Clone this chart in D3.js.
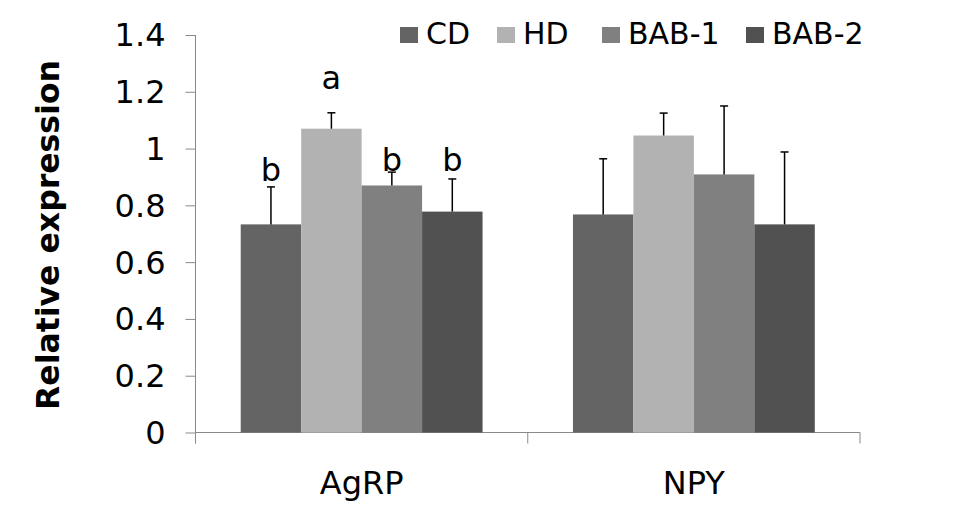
<!DOCTYPE html>
<html>
<head>
<meta charset="utf-8">
<script src="https://cdn.jsdelivr.net/npm/d3@7/dist/d3.min.js"></script>
<style>
  html, body { margin: 0; padding: 0; background: #fff; }
  text { font-family: "DejaVu Sans", Verdana, sans-serif; fill: #000; }
</style>
</head>
<body>
<svg id="chart" width="962" height="527"></svg>
<script>
// ---- data ----
const categories = ["AgRP", "NPY"];
const series = ["CD", "HD", "BAB-1", "BAB-2"];
const meanAgRP = [0.733, 1.070, 0.870, 0.778];
const meanNPY  = [0.768, 1.046, 0.909, 0.733];
const errAgRP  = [0.132, 0.056, 0.047, 0.115];
const errNPY   = [0.196, 0.079, 0.241, 0.255];
const lettersAgRP = ["b", "a", "b", "b"];
const lettersNPY  = ["", "", "", ""];
const letterAtAgRP = [0.885, 1.210, 0.920, 0.920];
const letterAtNPY  = [0, 0, 0, 0];
const yTicks = [0, 0.2, 0.4, 0.6, 0.8, 1, 1.2, 1.4];
const colors = ["#646464", "#b2b2b2", "#808080", "#515151"];

const table = categories.map((c, i) => ({
  cat: c,
  values: series.map((s, j) => ({
    s, j,
    mean: [meanAgRP, meanNPY][i][j],
    err: [errAgRP, errNPY][i][j],
    letter: [lettersAgRP, lettersNPY][i][j],
    letterAt: [letterAtAgRP, letterAtNPY][i][j]
  }))
}));

// ---- layout ----
const svg = d3.select("#chart");
const mLeft = 195.5, mRight = 860, mTop = 35, mBottom = 432.5;
const axisColor = "#8a8a8a";
const fs = 32;

const y = d3.scaleLinear().domain([0, 1.4]).range([mBottom, mTop]);
const x0 = d3.scaleBand().domain(categories).range([mLeft, mRight]).padding(0);
const x1 = d3.scaleBand().domain(series).range([0, x0.bandwidth()]).paddingInner(0).paddingOuter(0.748);

// y axis
const yAxis = svg.append("g").attr("transform", `translate(${mLeft},0)`)
  .call(d3.axisLeft(y).tickValues(yTicks).tickSize(10).tickPadding(20).tickFormat(d3.format("")));
yAxis.select(".domain").attr("stroke", axisColor).attr("d", `M0,${mTop}V${mBottom + 11}`);
yAxis.selectAll(".tick line").attr("stroke", axisColor);
yAxis.selectAll(".tick text").attr("font-size", fs).attr("dy", "0.34em")
  .style("font-family", '"DejaVu Sans", Verdana, sans-serif').attr("fill", "#000");

// x axis
const xAxisG = svg.append("g").attr("transform", `translate(0,${mBottom})`);
xAxisG.append("line").attr("x1", mLeft).attr("x2", mRight).attr("y1", 0).attr("y2", 0).attr("stroke", axisColor);
const boundaries = [mLeft, ...categories.map(c => x0(c) + x0.bandwidth())];
xAxisG.selectAll("line.b").data(boundaries).enter().append("line").attr("class", "b")
  .attr("x1", d => d).attr("x2", d => d).attr("y1", 0).attr("y2", 11).attr("stroke", axisColor);
xAxisG.selectAll("text").data(categories).enter().append("text")
  .attr("x", d => x0(d) + x0.bandwidth() / 2).attr("y", 61)
  .attr("text-anchor", "middle").attr("font-size", fs).text(d => d);

// bars
const groups = svg.selectAll("g.grp").data(table).enter().append("g").attr("class", "grp")
  .attr("transform", d => `translate(${x0(d.cat)},0)`);
groups.selectAll("rect").data(d => d.values).enter().append("rect")
  .attr("x", d => x1(d.s)).attr("width", x1.bandwidth())
  .attr("y", d => y(d.mean)).attr("height", d => y(0) - y(d.mean))
  .attr("fill", d => colors[d.j]);

// error bars (upper only)
const eb = groups.selectAll("g.err").data(d => d.values).enter().append("g").attr("class", "err");
eb.append("line")
  .attr("x1", d => x1(d.s) + x1.bandwidth() / 2).attr("x2", d => x1(d.s) + x1.bandwidth() / 2)
  .attr("y1", d => y(d.mean)).attr("y2", d => y(d.mean + d.err))
  .attr("stroke", "#000").attr("stroke-width", 1.5);
eb.append("line")
  .attr("x1", d => x1(d.s) + x1.bandwidth() / 2 - 4).attr("x2", d => x1(d.s) + x1.bandwidth() / 2 + 4)
  .attr("y1", d => y(d.mean + d.err)).attr("y2", d => y(d.mean + d.err))
  .attr("stroke", "#000").attr("stroke-width", 1.5);

// significance letters
groups.selectAll("text.let").data(d => d.values.filter(v => v.letter)).enter().append("text")
  .attr("class", "let")
  .attr("x", d => x1(d.s) + x1.bandwidth() / 2).attr("y", d => y(d.letterAt))
  .attr("text-anchor", "middle").attr("font-size", fs).text(d => d.letter);

// y title
svg.append("text")
  .attr("transform", `translate(59,235) rotate(-90)`)
  .attr("text-anchor", "middle").attr("font-size", 31.5).attr("font-weight", "bold")
  .text("Relative expression");

// legend
const legendX = [400, 497, 602, 746];
const lg = svg.selectAll("g.lg").data(series).enter().append("g").attr("class", "lg")
  .attr("transform", (d, i) => `translate(${legendX[i]},0)`);
lg.append("rect").attr("x", 0).attr("y", 27).attr("width", 18).attr("height", 16)
  .attr("fill", (d, i) => colors[i]);
lg.append("text").attr("x", 26).attr("y", 44).attr("font-size", 30).text(d => d);
</script>
</body>
</html>
